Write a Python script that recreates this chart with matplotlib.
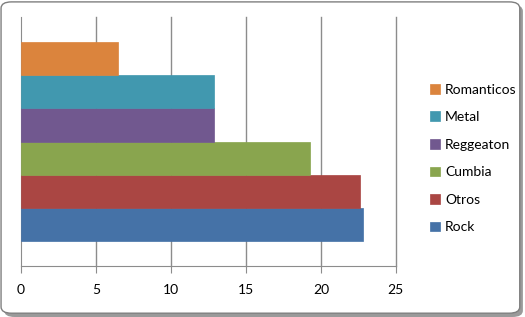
import matplotlib.pyplot as plt
from matplotlib.patches import FancyBboxPatch

# datos
generos = ["Rock", "Otros", "Cumbia", "Reggeaton", "Metal", "Romanticos"]
valores = [22.8, 22.6, 19.3, 12.9, 12.9, 6.5]
colores = ["#4572A7", "#AA4643", "#89A54E", "#71588F", "#4198AF", "#DB843D"]
ticks_x = [0, 5, 10, 15, 20, 25]

plt.rcParams["font.family"] = ["Lato", "DejaVu Sans"]

fig = plt.figure(figsize=(5.25, 3.17), dpi=100)

# marco con esquinas redondeadas y sombra
sombra = FancyBboxPatch((0.008, 0.0), 0.988, 0.985, boxstyle="round,pad=0,rounding_size=0.02",
                        transform=fig.transFigure, facecolor="#9a9a9a", edgecolor="none", zorder=0)
marco = FancyBboxPatch((0.002, 0.012), 0.988, 0.982, boxstyle="round,pad=0,rounding_size=0.02",
                       transform=fig.transFigure, facecolor="white", edgecolor="#7f7f7f",
                       linewidth=1, zorder=1)
fig.patches.extend([sombra, marco])

ax = fig.add_axes([0.04, 0.161, 0.714, 0.785])
ax.set_zorder(2)
ax.patch.set_alpha(0)

for i, (g, v, c) in enumerate(zip(generos, valores, colores)):
    ax.barh(i, v, height=1.0, color=c, edgecolor=c, linewidth=0.5, label=g, zorder=3)

ax.set_xlim(0, 25)
ax.set_ylim(-1.25, 6.25)
ax.set_xticks(ticks_x)
ax.set_yticks([])
for t in ticks_x[1:]:
    ax.axvline(t, color="#8c8c8c", linewidth=1, zorder=0, clip_on=False)
for s in ["top", "right"]:
    ax.spines[s].set_visible(False)
ax.spines["left"].set_color("#8c8c8c")
ax.spines["bottom"].set_color("#8c8c8c")
ax.tick_params(axis="x", direction="out", length=5, color="#8c8c8c", labelsize=10, pad=8)

h, l = ax.get_legend_handles_labels()
fig.legend(h[::-1], l[::-1], loc="center left", bbox_to_anchor=(0.795, 0.50),
           frameon=False, fontsize=10, handlelength=0.7, handleheight=0.7,
           handletextpad=0.4, labelspacing=1.12)

fig.savefig("out.png", dpi=100)
